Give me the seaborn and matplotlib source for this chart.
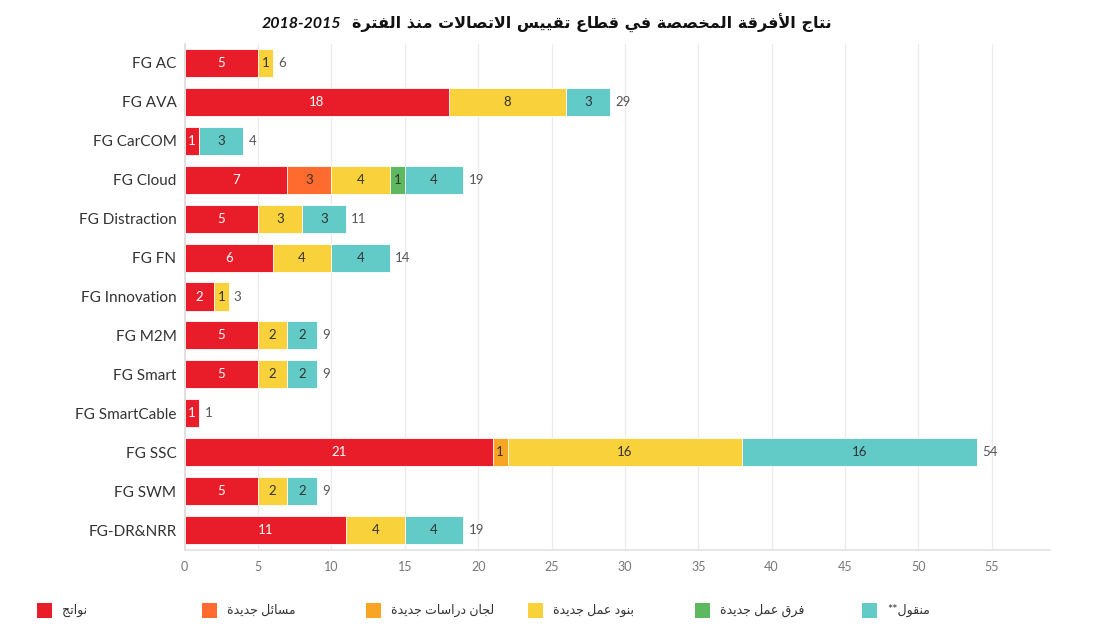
import numpy as np
import pandas as pd
import matplotlib
matplotlib.use("Agg")
import matplotlib.pyplot as plt
from matplotlib.patches import Rectangle
import seaborn as sns

# ---------------------------------------------------------------- data
categories = ["FG AC", "FG AVA", "FG CarCOM", "FG Cloud", "FG Distraction", "FG FN",
              "FG Innovation", "FG M2M", "FG Smart", "FG SmartCable", "FG SSC",
              "FG SWM", "FG-DR&NRR"]
outputs        = [5, 18, 1, 7, 5, 6, 2, 5, 5, 1, 21, 5, 11]
new_questions  = [0, 0, 0, 3, 0, 0, 0, 0, 0, 0, 0, 0, 0]
new_sg_panels  = [0, 0, 0, 0, 0, 0, 0, 0, 0, 0, 1, 0, 0]
new_work_items = [1, 8, 0, 4, 3, 4, 1, 2, 2, 0, 16, 2, 4]
new_wgs        = [0, 0, 0, 1, 0, 0, 0, 0, 0, 0, 0, 0, 0]
transferred    = [0, 3, 3, 4, 3, 4, 0, 2, 2, 0, 16, 2, 4]

series_names = ["نواتج", "مسائل جديدة", "لجان دراسات جديدة", "بنود عمل جديدة",
                "فرق عمل جديدة", "منقول**"]
series_values = [outputs, new_questions, new_sg_panels, new_work_items, new_wgs, transferred]
series_colors = ["#E91D2A", "#FF6A2E", "#F9A524", "#F9D13B", "#5DB85F", "#62CBC8"]
label_colors = ["white", "#333333", "#333333", "#333333", "#333333", "#333333"]

title_ar = "نتاج الأفرقة المخصصة في قطاع تقييس الاتصالات منذ الفترة"
title_years = "2018-2015"

x_ticks = list(range(0, 60, 5))

# ---------------------------------------------------------------- arabic shaping
FORMS = {
    "\u0623": (0xFE83, 0xFE84),
    "\u0626": (0xFE89, 0xFE8A, 0xFE8B, 0xFE8C),
    "\u0627": (0xFE8D, 0xFE8E),
    "\u0628": (0xFE8F, 0xFE90, 0xFE91, 0xFE92),
    "\u0629": (0xFE93, 0xFE94),
    "\u062A": (0xFE95, 0xFE96, 0xFE97, 0xFE98),
    "\u062C": (0xFE9D, 0xFE9E, 0xFE9F, 0xFEA0),
    "\u062E": (0xFEA5, 0xFEA6, 0xFEA7, 0xFEA8),
    "\u062F": (0xFEA9, 0xFEAA),
    "\u0630": (0xFEAB, 0xFEAC),
    "\u0631": (0xFEAD, 0xFEAE),
    "\u0633": (0xFEB1, 0xFEB2, 0xFEB3, 0xFEB4),
    "\u0635": (0xFEB9, 0xFEBA, 0xFEBB, 0xFEBC),
    "\u0637": (0xFEC1, 0xFEC2, 0xFEC3, 0xFEC4),
    "\u0639": (0xFEC9, 0xFECA, 0xFECB, 0xFECC),
    "\u0641": (0xFED1, 0xFED2, 0xFED3, 0xFED4),
    "\u0642": (0xFED5, 0xFED6, 0xFED7, 0xFED8),
    "\u0644": (0xFEDD, 0xFEDE, 0xFEDF, 0xFEE0),
    "\u0645": (0xFEE1, 0xFEE2, 0xFEE3, 0xFEE4),
    "\u0646": (0xFEE5, 0xFEE6, 0xFEE7, 0xFEE8),
    "\u0648": (0xFEED, 0xFEEE),
    "\u064A": (0xFEF1, 0xFEF2, 0xFEF3, 0xFEF4),
}
LAM_ALEF = {"\u0627": (0xFEFB, 0xFEFC), "\u0623": (0xFEF7, 0xFEF8)}


def rtl(text):
    """Contextual Arabic letter forms, laid out right to left."""
    toks, i = [], 0
    while i < len(text):
        c = text[i]
        if c == "\u0644" and i + 1 < len(text) and text[i + 1] in LAM_ALEF:
            toks.append(("LA", text[i + 1]))
            i += 2
        else:
            toks.append((c, None))
            i += 1

    def joins_next(t):
        return t[0] != "LA" and t[0] in FORMS and len(FORMS[t[0]]) == 4

    def is_letter(t):
        return t[0] == "LA" or t[0] in FORMS

    out = []
    for k, t in enumerate(toks):
        prev = toks[k - 1] if k > 0 else None
        nxt = toks[k + 1] if k + 1 < len(toks) else None
        lp = prev is not None and joins_next(prev)
        ln = nxt is not None and is_letter(nxt) and joins_next(t)
        c, a = t
        if c == "LA":
            iso, fin = LAM_ALEF[a]
            out.append(chr(fin if lp else iso))
        elif c in FORMS:
            f = FORMS[c]
            if len(f) == 2:
                out.append(chr(f[1] if lp else f[0]))
            elif lp and ln:
                out.append(chr(f[3]))
            elif lp:
                out.append(chr(f[1]))
            elif ln:
                out.append(chr(f[2]))
            else:
                out.append(chr(f[0]))
        else:
            out.append(c)
    return "".join(reversed(out))


# ---------------------------------------------------------------- figure
sns.set_theme(style="white")
plt.rcParams["font.family"] = ["Lato", "DejaVu Sans"]

fig = plt.figure(figsize=(10.93, 6.27), dpi=100)
ax = fig.add_axes([0.169, 0.1236, 0.792, 0.807])

vals = np.array(series_values, dtype=float)
cum = np.cumsum(vals, axis=0)
totals = cum[-1]

# stacked bars: draw cumulative layers from the outermost inwards
for k in range(len(series_values) - 1, -1, -1):
    df = pd.DataFrame({"category": categories, "value": cum[k]})
    sns.barplot(data=df, x="value", y="category", orient="h", color=series_colors[k],
                saturation=1, width=0.72, edgecolor="white", linewidth=0.6, ax=ax)

for j in range(len(categories)):
    start = 0.0
    for k in range(len(series_values)):
        v = vals[k, j]
        if v > 0:
            ax.text(start + v / 2, j, f"{int(v)}", ha="center", va="center",
                    fontsize=9.5, color=label_colors[k])
        start += v
    ax.text(totals[j] + 0.35, j, f"{int(totals[j])}", ha="left", va="center",
            fontsize=9.5, color="#555555")

ax.set_xlim(0, 59)
ax.set_ylim(12.5, -0.5)
ax.set_xticks(x_ticks)
ax.set_xlabel("")
ax.set_ylabel("")
ax.grid(axis="x", color="#EBEBEB", linewidth=0.9)
ax.set_axisbelow(True)
for s in ["top", "right"]:
    ax.spines[s].set_visible(False)
ax.spines["left"].set_color("#DDDDDD")
ax.spines["bottom"].set_color("#E3E3E3")
ax.tick_params(axis="x", length=4, color="#E3E3E3", labelsize=9, labelcolor="#777777", pad=4)
ax.tick_params(axis="y", length=0, labelsize=11, labelcolor="#333333", pad=6)

# title: Arabic phrase on the right, the years to its left
t_ar = fig.text(832 / 1093, 0.962, rtl(title_ar), ha="right", va="center",
                fontsize=11.5, fontweight="bold", family=["DejaVu Sans"], color="#111111")
ax.annotate(title_years, xy=(0, 0.5), xycoords=t_ar, xytext=(-8, 0),
            textcoords="offset points", ha="right", va="center",
            fontsize=11.5, fontweight="bold", fontstyle="italic",
            family=["Lato"], color="#111111", annotation_clip=False)

# legend along the bottom
leg_x = [37, 202, 366, 528, 695, 862]
W, H = 1093.0, 627.0
for k, name in enumerate(series_names):
    x0 = leg_x[k]
    fig.add_artist(Rectangle((x0 / W, 1 - 618 / H), 15 / W, 15 / H,
                             transform=fig.transFigure, facecolor=series_colors[k],
                             edgecolor="none"))
    fig.text((x0 + 25) / W, 1 - 610 / H, rtl(name), ha="left", va="center",
             fontsize=9, color="#333333")

fig.savefig("out.png", dpi=100)
